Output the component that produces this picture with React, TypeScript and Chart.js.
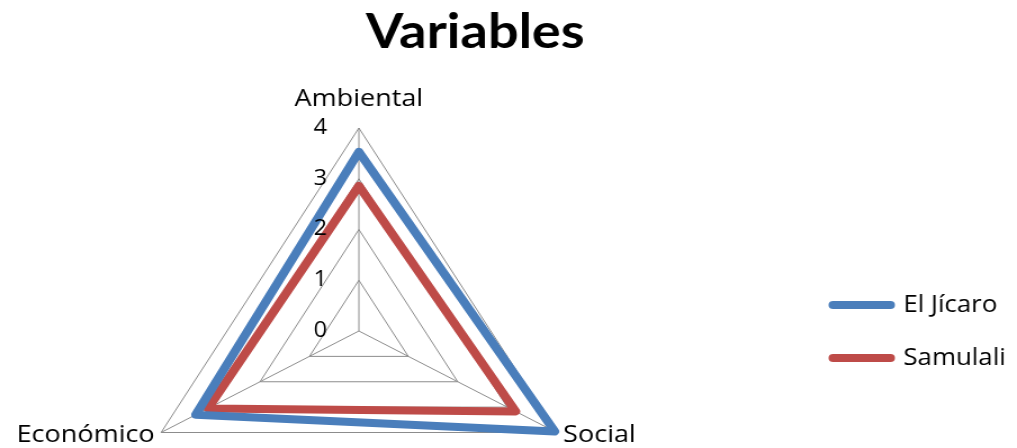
import React, { useEffect, useRef } from 'react';
import { Chart, registerables } from 'chart.js';

Chart.register(...registerables);

// ---- data ----
const categories = ['Ambiental', 'Social', 'Económico'];
const seriesNames = ['El Jícaro', 'Samulali'];
const elJicaro = [3.53, 3.96, 3.3];
const samulali = [2.86, 3.17, 3.05];
const tickValues = [0, 1, 2, 3, 4];
const titleText = 'Variables';

// ---- styles / layout ----
const seriesColors = ['#4A7EBB', '#BE4B48'];
const gridColor = '#8c8c8c';
const NATURAL_W = 904; // canvas is drawn at this width, then stretched to DISPLAY_W
const CANVAS_H = 663;
const DISPLAY_W = 1017;
const RADAR_CX = 319;
const RADAR_CY = 331;
const RADAR_R = 203;
const LABEL_FONT = 'Open Sans';
const EM = '\u2003';
const HAIR = '\u200A';

export default function App() {
  const ref = useRef<HTMLCanvasElement>(null);

  useEffect(() => {
    const canvas = ref.current;
    if (!canvas) return;
    const common = {
      borderWidth: 8,
      fill: false,
      pointRadius: 0,
      pointHoverRadius: 0,
      borderJoinStyle: 'round' as const,
      borderCapStyle: 'round' as const,
      tension: 0,
    };
    const chart = new Chart(canvas, {
      type: 'radar',
      data: {
        labels: categories,
        datasets: [
          { label: seriesNames[0], data: elJicaro, borderColor: seriesColors[0], backgroundColor: seriesColors[0], ...common },
          { label: seriesNames[1], data: samulali, borderColor: seriesColors[1], backgroundColor: seriesColors[1], ...common },
        ],
      },
      options: {
        responsive: false,
        animation: false,
        devicePixelRatio: 1,
        layout: { padding: { left: -71, right: 0, top: 0, bottom: 0 } },
        plugins: {
          title: {
            display: true,
            text: ' ' + titleText,
            color: '#000',
            font: { family: 'Lato', size: 48, weight: 'bold' },
            padding: { top: 4, bottom: 4 },
          },
          legend: {
            position: 'right',
            align: 'center',
            labels: {
              usePointStyle: true,
              pointStyle: 'line',
              pointStyleWidth: 51,
              padding: 30,
              color: '#000',
              font: { family: LABEL_FONT, size: 23 },
              generateLabels: (c: any) =>
                (Chart.defaults.plugins.legend.labels as any)
                  .generateLabels(c)
                  .map((item: any) => ({ ...item, lineCap: 'round', lineWidth: 8 })),
            },
          },
          tooltip: { enabled: false },
        },
        scales: {
          r: {
            min: 0,
            max: 4,
            afterSetDimensions: (scale: any) => {
              scale.xCenter = RADAR_CX;
              scale.yCenter = RADAR_CY;
              scale.drawingArea = RADAR_R;
            },
            afterBuildTicks: (scale: any) => {
              scale.ticks = [{ value: tickValues[0] }, ...tickValues.map((v) => ({ value: v }))];
            },
            ticks: {
              stepSize: 1,
              z: 1,
              showLabelBackdrop: false,
              color: '#000',
              font: { family: LABEL_FONT, size: 21 },
              callback: (v: any) => String(v) + EM + EM + EM + ' ',
            },
            grid: { color: gridColor, lineWidth: 1 },
            angleLines: { color: gridColor, lineWidth: 1 },
            pointLabels: {
              color: '#000',
              font: { family: LABEL_FONT, size: 24 },
              padding: (ctx: any) => (ctx.index === 0 ? 1.5 : -36.3),
              callback: (label: string, index: number): any => {
                if (index === 1) return EM + HAIR + label;
                if (index === 2) return label + EM + HAIR;
                return label;
              },
            },
          },
        },
      },
    });
    return () => chart.destroy();
  }, []);

  return (
    <div
      style={{
        position: 'fixed',
        left: 0,
        top: 0,
        width: DISPLAY_W,
        height: 448,
        overflow: 'hidden',
        background: '#fff',
      }}
    >
      <canvas
        ref={ref}
        width={NATURAL_W}
        height={CANVAS_H}
        style={{ width: DISPLAY_W + 'px', height: CANVAS_H + 'px', display: 'block' }}
      />
    </div>
  );
}
